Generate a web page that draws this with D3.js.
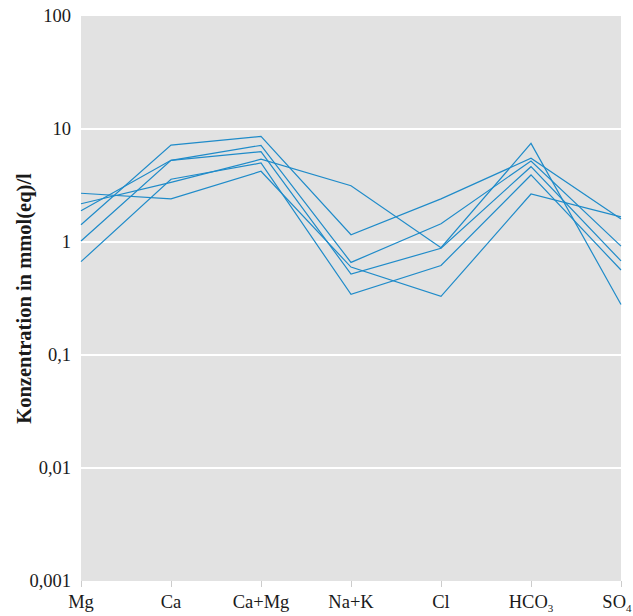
<!DOCTYPE html>
<html>
<head>
<meta charset="utf-8">
<script src="https://cdn.jsdelivr.net/npm/d3@7"></script>
<style>
  html, body { margin: 0; padding: 0; background: #ffffff; }
  svg { display: block; }
  text { font-family: "Liberation Serif", "DejaVu Serif", serif; fill: #1a1a1a; }
</style>
</head>
<body>
<svg id="chart" width="633" height="616"></svg>
<script>
// ---- data ----
const categories = ["Mg", "Ca", "Ca+Mg", "Na+K", "Cl", "HCO3", "SO4"];
const sample1 = [2.70, 2.41, 4.23, 0.60, 0.33, 2.66, 1.67];
const sample2 = [2.18, 3.37, 5.40, 3.15, 0.89, 7.46, 0.28];
const sample3 = [1.42, 7.21, 8.61, 1.16, 2.41, 5.51, 1.60];
const sample4 = [1.89, 5.28, 7.17, 0.66, 1.45, 5.21, 0.92];
const sample5 = [1.02, 5.28, 6.30, 0.52, 0.88, 4.64, 0.68];
const sample6 = [0.67, 3.59, 5.00, 0.344, 0.62, 3.92, 0.565];
const seriesList = [sample1, sample2, sample3, sample4, sample5, sample6];
const yTickValues = [0.001, 0.01, 0.1, 1, 10, 100];
const yTickLabels = ["0,001", "0,01", "0,1", "1", "10", "100"];
const yTitle = "Konzentration in mmol(eq)/l";

(function () {
// ---- layout ----
const svg = d3.select("#chart");
const W = 633;
const mLeft = 81, mRight = 621, mTop = 16, mBottom = 581;

const x = d3.scalePoint().domain(categories).range([mLeft, mRight]);
const y = d3.scaleLog().domain([0.001, 100]).range([mBottom, mTop]);

// background
svg.append("rect")
  .attr("x", mLeft).attr("y", mTop)
  .attr("width", mRight - mLeft).attr("height", mBottom - mTop)
  .attr("fill", "#e2e2e2");

// gridlines
svg.append("g").selectAll("line")
  .data(yTickValues.filter(v => v > 0.001 && v < 100))
  .join("line")
  .attr("x1", mLeft).attr("x2", mRight)
  .attr("y1", d => y(d)).attr("y2", d => y(d))
  .attr("stroke", "#ffffff").attr("stroke-width", 2);

// y axis
const yAxis = d3.axisLeft(y)
  .tickValues(yTickValues)
  .tickFormat((d, i) => yTickLabels[i])
  .tickSize(0).tickPadding(10);
const gy = svg.append("g").attr("transform", `translate(${mLeft},0)`).call(yAxis);
gy.select(".domain").remove();
gy.selectAll("text")
  .style("font-family", '"Liberation Serif", serif')
  .style("font-size", "18.5px")
  .attr("fill", "#1a1a1a");

// x axis
const xAxis = d3.axisBottom(x).tickSize(6).tickPadding(6).tickFormat("");
const gx = svg.append("g").attr("transform", `translate(0,${mBottom})`).call(xAxis);
gx.select(".domain").remove();
gx.selectAll("line").attr("stroke", "#cccccc");

const xl = svg.append("g");
categories.forEach(c => {
  const t = xl.append("text")
    .attr("x", x(c)).attr("y", mBottom + 27)
    .attr("text-anchor", "middle")
    .style("font-size", "18.5px");
  const m = c.match(/^([A-Za-z]+?)(\d)$/);
  if (m) {
    t.append("tspan").text(m[1]);
    t.append("tspan").text(m[2]).attr("dy", 4).style("font-size", "11px");
  } else {
    t.text(c);
  }
  // keep the label inside the page
  const bb = t.node().getBBox();
  if (bb.x + bb.width > W - 1) {
    t.attr("x", x(c) - (bb.x + bb.width - (W - 1)));
  }
});

// y title
svg.append("text")
  .attr("transform", `translate(31,${(mTop + mBottom) / 2}) rotate(-90)`)
  .attr("text-anchor", "middle")
  .style("font-size", "20.5px")
  .style("font-weight", "bold")
  .text(yTitle);

// lines
const line = d3.line()
  .x((d, i) => x(categories[i]))
  .y(d => y(d));
svg.append("g").selectAll("path")
  .data(seriesList)
  .join("path")
  .attr("d", line)
  .attr("fill", "none")
  .attr("stroke", "#1f8bc9")
  .attr("stroke-width", 1.2);
})();
</script>
</body>
</html>
